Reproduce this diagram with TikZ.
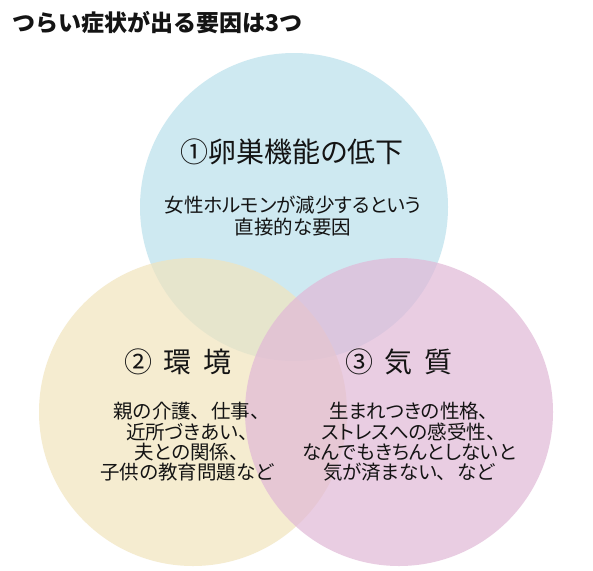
\documentclass[tikz,border=0pt]{standalone}
\usepackage{fontspec}
\newfontfamily\jp[RawFeature=+palt]{Noto Sans CJK JP}
\newfontfamily\jpt{Noto Sans CJK JP}
\definecolor{cblue}{RGB}{186,224,236}
\definecolor{cyellow}{RGB}{241,228,189}
\definecolor{cpink}{RGB}{225,184,215}
\definecolor{ctext}{RGB}{20,20,20}
\newcommand{\hsp}{\hspace{0.42em}}
\newcommand{\tsp}{\hspace{0.55em}}
\tikzset{
  venn/.style={circle, inner sep=0pt, minimum size=308pt, fill opacity=0.7, draw=none},
  head/.style={font=\jp\fontsize{28}{32}\selectfont, text=ctext, inner sep=0pt},
  body/.style={font=\jp\fontsize{19.5}{20.3}\selectfont, text=ctext, align=center, inner sep=0pt},
}
\begin{document}
\begin{tikzpicture}[x=1pt,y=-1pt]
\useasboundingbox (0,0) rectangle (593,570);
\fill[white] (0,0) rectangle (593,570);
\node[venn, fill=cblue] (c1) at (294,207) {};
\node[venn, fill=cyellow] (c2) at (193,412) {};
\node[venn, fill=cpink] (c3) at (399,412) {};
\node[anchor=west, inner sep=0pt, font=\jpt\bfseries\fontsize{23}{26}\selectfont, text=ctext] (title) at (12,23) {つらい症状が出る要因は3つ};
\node[head] (h1) at (292,152) {①卵巣機能の低下};
\node[body, font=\jp\fontsize{19.5}{22}\selectfont] (b1) at (293,216) {女性ホルモンが減少するという\\直接的な要因};
\node[head] (h2) at (178,362) {②\hsp 環\hsp 境};
\node[body] (b2) at (187,442) {親の介護、\tsp 仕事、\\近所づきあい、\\夫との関係、\\子供の教育問題など};
\node[head] (h3) at (399,362) {③\hsp 気\hsp 質};
\node[body] (b3) at (409,442) {生まれつきの性格、\\ストレスへの感受性、\\なんでもきちんとしないと\\気が済まない、\tsp など};
\end{tikzpicture}
\end{document}
